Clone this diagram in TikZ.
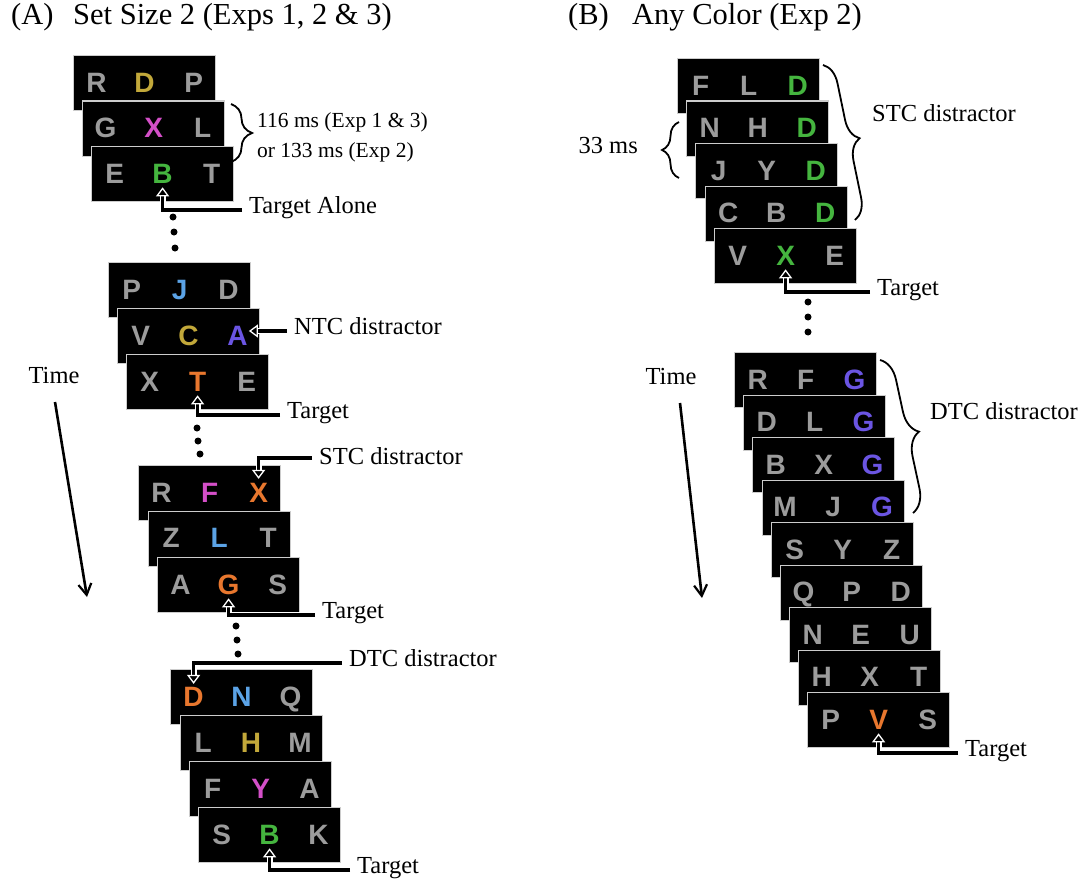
\documentclass[tikz,border=0pt]{standalone}
\usepackage{fontspec}
\setmainfont{Liberation Serif}
\newfontfamily\lettfont{Liberation Sans}
\usetikzlibrary{arrows.meta,decorations.pathreplacing,calc}
\definecolor{lgrey}{HTML}{9C9C9C}
\definecolor{lgreen}{HTML}{45B53F}
\definecolor{lmag}{HTML}{D44FC8}
\definecolor{lolive}{HTML}{C2A83A}
\definecolor{lblue}{HTML}{5BA3E6}
\definecolor{lorange}{HTML}{E8772E}
\definecolor{lpurple}{HTML}{6B55E3}
\newcommand\crd[9]{%
  \node[card] (#1) at (#2,#3) {};
  \node[ltr,text=#5] (#1a) at ([xshift=-48pt,yshift=1pt]#1.center) {#4};
  \node[ltr,text=#7] (#1b) at ([yshift=1pt]#1.center) {#6};
  \node[ltr,text=#9] (#1c) at ([xshift=49pt,yshift=1pt]#1.center) {#8};
}
\begin{document}
\begin{tikzpicture}[x=1pt,y=-1pt,
  card/.style={anchor=north west, fill=black, draw=white!80!black, line width=1.2pt, minimum width=142pt, minimum height=55pt, inner sep=0pt},
  ltr/.style={font=\lettfont\bfseries\fontsize{28}{28}\selectfont, inner sep=0pt, text height=20pt, text depth=0pt},
  lbl/.style={anchor=west, font=\fontsize{24.5}{28}\selectfont, inner xsep=7pt, inner ysep=0pt, text height=0.66em, text depth=0pt},
  ttl/.style={anchor=base west, font=\fontsize{30.5}{34}\selectfont, inner sep=0pt},
  ptrw/.style={white, line width=6pt, shorten >=13pt},
  ptr/.style={line width=3.4pt, shorten >=4pt, -{Triangle[length=9pt,width=13pt,color=white,fill=black,line width=1.3pt]}},
  dot/.style={circle, fill=black, inner sep=0pt, minimum size=7pt},
  brc/.style={decorate, decoration={brace, amplitude=#1}, line width=1.8pt},
  timearr/.style={line width=2.6pt, -{Straight Barb[length=11pt,width=13pt,line width=2.2pt]}}
]
\useasboundingbox (0,0) rectangle (1086,880);

% titles
\node[ttl] (tA) at (11,25) {(A)};
\node[ttl] (tAt) at (73,25) {Set Size 2 (Exps 1, 2 \& 3)};
\node[ttl] (tB) at (568,25) {(B)};
\node[ttl] (tBt) at (632,25) {Any Color (Exp 2)};

% ---------- Panel A ----------
\crd{aa}{73}{55}{R}{lgrey}{D}{lolive}{P}{lgrey}
\crd{ab}{82}{100.5}{G}{lgrey}{X}{lmag}{L}{lgrey}
\crd{ac}{91}{146}{E}{lgrey}{B}{lgreen}{T}{lgrey}

\crd{ba}{108}{262}{P}{lgrey}{J}{lblue}{D}{lgrey}
\crd{bb}{117}{308}{V}{lgrey}{C}{lolive}{A}{lpurple}
\crd{bc}{126}{354}{X}{lgrey}{T}{lorange}{E}{lgrey}

\crd{ca}{138}{465}{R}{lgrey}{F}{lmag}{X}{lorange}
\crd{cb}{147.5}{510.5}{Z}{lgrey}{L}{lblue}{T}{lgrey}
\crd{cc}{157}{557}{A}{lgrey}{G}{lorange}{S}{lgrey}

\crd{da}{170}{669}{D}{lorange}{N}{lblue}{Q}{lgrey}
\crd{db}{179.5}{715}{L}{lgrey}{H}{lolive}{M}{lgrey}
\crd{dc}{189}{761}{F}{lgrey}{Y}{lmag}{A}{lgrey}
\crd{dd}{198}{807}{S}{lgrey}{B}{lgreen}{K}{lgrey}

% brace and duration
\coordinate (brA1) at (231,104);
\coordinate (brA2) at (231,162);
\draw[brc=21pt] (brA1) -- (brA2);
\node[anchor=west, font=\fontsize{21.5}{30}\selectfont, align=left, inner sep=0pt] (dur) at (257,137) {116 ms (Exp 1 \& 3)\\or 133 ms (Exp 2)};

% labels and pointers
\node[lbl] (tal) at (242,210) {Target Alone};
\draw[ptrw] (tal.west) -| (acb.south);
\draw[ptr] (tal.west) -| (acb.south);

\node[lbl] (ntc) at (287,331) {NTC distractor};
\draw[ptrw, shorten >=10pt] (ntc.west) -- (ntc.west -| bbc.east);
\draw[ptr, shorten >=1pt] (ntc.west) -- (ntc.west -| bbc.east);

\node[lbl] (tgA2) at (280,415) {Target};
\draw[ptrw] (tgA2.west) -| (bcb.south);
\draw[ptr] (tgA2.west) -| (bcb.south);

\node[lbl, text height=1.2em] (stcA) at (312,458) {STC distractor};
\draw[ptrw, shorten >=12pt] (stcA.west) -| (cac.north);
\draw[ptr, shorten >=3pt] (stcA.west) -| (cac.north);

\node[lbl] (tgA3) at (315,615) {Target};
\draw[ptrw] (tgA3.west) -| (ccb.south);
\draw[ptr] (tgA3.west) -| (ccb.south);

\node[lbl] (dtcA) at (342,663) {DTC distractor};
\draw[ptrw, shorten >=11pt] (dtcA.west) -| (daa.north);
\draw[ptr, shorten >=2pt] (dtcA.west) -| (daa.north);

\node[lbl] (tgA4) at (350,870) {Target};
\draw[ptrw] (tgA4.west) -| (ddb.south);
\draw[ptr] (tgA4.west) -| (ddb.south);

% dots
\node[dot] (p1) at (173,217) {};
\node[dot] (p2) at (174,232) {};
\node[dot] (p3) at (175,248) {};
\node[dot] (p4) at (197,428) {};
\node[dot] (p5) at (198,441) {};
\node[dot] (p6) at (200,454) {};
\node[dot] (p7) at (236,626) {};
\node[dot] (p8) at (237,640) {};
\node[dot] (p9) at (238,654) {};

% time arrow A
\node[font=\fontsize{24.5}{28}\selectfont, inner sep=0pt] (timeA) at (54,376) {Time};
\coordinate (tAs) at (55,402);
\coordinate (tAe) at (87,597);
\draw[timearr] (tAs) -- (tAe);

% ---------- Panel B ----------
\crd{ea}{677}{58}{F}{lgrey}{L}{lgrey}{D}{lgreen}
\crd{eb}{686}{100.5}{N}{lgrey}{H}{lgrey}{D}{lgreen}
\crd{ec}{695}{143}{J}{lgrey}{Y}{lgrey}{D}{lgreen}
\crd{ed}{704.5}{185.5}{C}{lgrey}{B}{lgrey}{D}{lgreen}
\crd{ee}{714}{228}{V}{lgrey}{X}{lgreen}{E}{lgrey}

\crd{fa}{734}{352}{R}{lgrey}{F}{lgrey}{G}{lpurple}
\crd{fb}{743}{394.5}{D}{lgrey}{L}{lgrey}{G}{lpurple}
\crd{fc}{752}{437}{B}{lgrey}{X}{lgrey}{G}{lpurple}
\crd{fd}{761.5}{479.5}{M}{lgrey}{J}{lgrey}{G}{lpurple}
\crd{fe}{771}{522}{S}{lgrey}{Y}{lgrey}{Z}{lgrey}
\crd{ff}{780}{564.5}{Q}{lgrey}{P}{lgrey}{D}{lgrey}
\crd{fg}{789}{607}{N}{lgrey}{E}{lgrey}{U}{lgrey}
\crd{fh}{798}{649.5}{H}{lgrey}{X}{lgrey}{T}{lgrey}
\crd{fi}{807}{692}{P}{lgrey}{V}{lorange}{S}{lgrey}

% braces B
\coordinate (bs1) at (823,65);
\coordinate (bs2) at (855,220);
\draw[brc=21pt] (bs1) -- (bs2);
\node[lbl] (stcB) at (865,118) {STC distractor};

\coordinate (bm1) at (679,178);
\coordinate (bm2) at (679,122);
\draw[brc=17pt] (bm1) -- (bm2);
\node[lbl, anchor=east] (ms33) at (645,150) {33 ms};

\coordinate (bd1) at (880,360);
\coordinate (bd2) at (913,513);
\draw[brc=23pt] (bd1) -- (bd2);
\node[lbl] (dtcB) at (923,416) {DTC distractor};

% pointers B
\node[lbl] (tgB1) at (870,292) {Target};
\draw[ptrw] (tgB1.west) -| (eeb.south);
\draw[ptr] (tgB1.west) -| (eeb.south);

\node[lbl] (tgB2) at (958,753) {Target};
\draw[ptrw] (tgB2.west) -| (fib.south);
\draw[ptr] (tgB2.west) -| (fib.south);

% dots B
\node[dot] (q1) at (808,302) {};
\node[dot] (q2) at (808,317) {};
\node[dot] (q3) at (808,332) {};

% time arrow B
\node[font=\fontsize{24.5}{28}\selectfont, inner sep=0pt] (timeB) at (671,377) {Time};
\coordinate (tBs) at (680,403);
\coordinate (tBe) at (702,598);
\draw[timearr] (tBs) -- (tBe);
\end{tikzpicture}
\end{document}
